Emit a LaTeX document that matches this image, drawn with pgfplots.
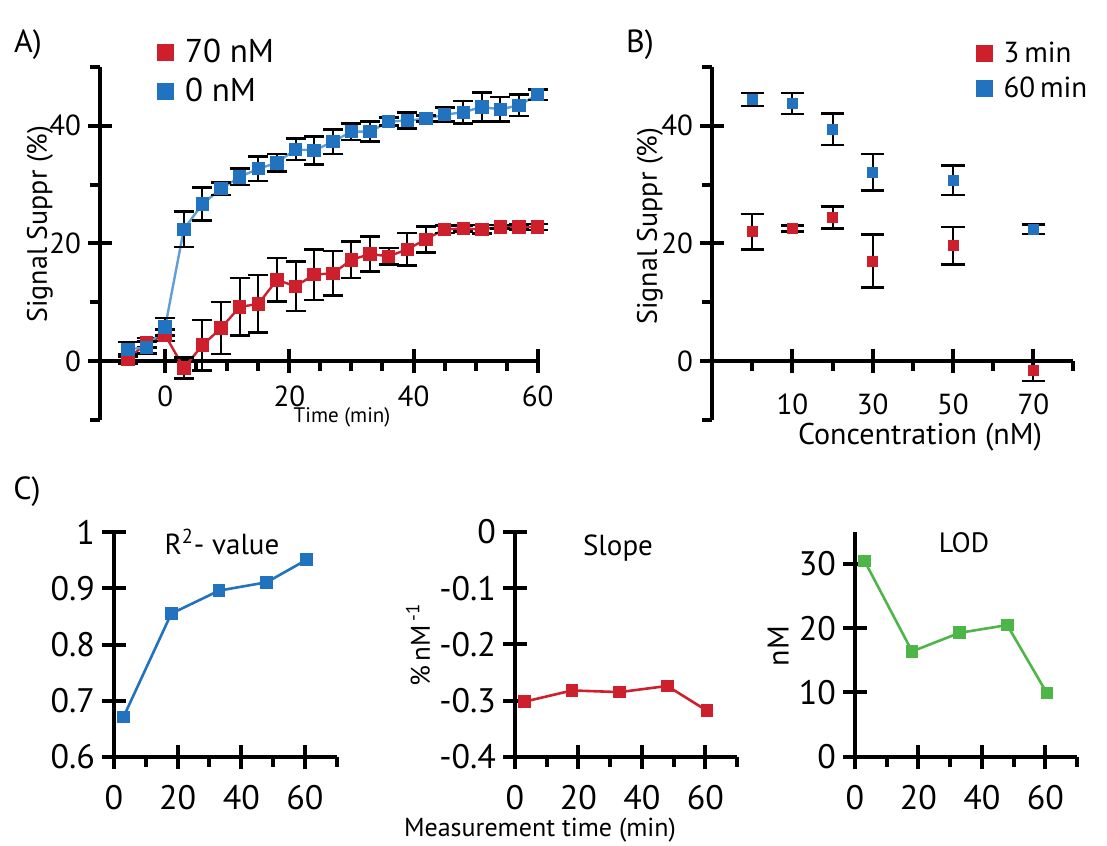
\documentclass[border=0pt]{standalone}
\usepackage{fontspec}
\setmainfont{PT Sans}
\usepackage{pgfplots}
\pgfplotsset{compat=1.18}
\definecolor{myred}{RGB}{205,32,44}
\definecolor{myblue}{RGB}{33,115,192}
\definecolor{lineblue}{RGB}{95,158,215}
\definecolor{mygreen}{RGB}{78,182,72}

\pgfplotsset{
  panel/.style={
    scale only axis, anchor=south west, clip=false,
    tick style={line width=2pt, black},
    tick align=center,
    major tick length=12pt,
    minor tick length=5pt,
    minor x tick style={yshift=-2.5pt},
    minor y tick style={xshift=-2.5pt},
    /pgf/number format/assume math mode=true,
    tick label style={font=\fontsize{14.5}{14.5}\selectfont},
    hide obscured x ticks=false, hide obscured y ticks=false,
    legend image code/.code={\fill[##1, draw=none] (0pt,-4.25pt) rectangle (8.5pt,4.25pt); \path (12pt,0pt);},
    legend style={draw=none, fill=none, inner sep=0pt, row sep=3pt,
      nodes={inner sep=1.5pt, anchor=west}},
    legend cell align=left,
  },
  plain lines/.style={axis line style={line width=2pt, -}},
  cpanel/.style={panel, axis lines=left, plain lines,
    xmin=0, xmax=70, xtick={0,20,40,60}, minor xtick={10,30,50,70},
    tick label style={font=\fontsize{17}{17}\selectfont},
    xticklabel style={yshift=-5pt}},
  errs/.style={error bars/.cd, y dir=both, y explicit,
    error bar style={black, line width=1pt},
    error mark options={rotate=90, black, mark size=#1, line width=1.3pt}},
}

\begin{document}
\begin{tikzpicture}
\useasboundingbox (0,0) rectangle (553.5pt,422.5pt);

% A) time course
\begin{axis}[panel, at={(50pt,212.6pt)}, width=218.85pt, height=176.4pt,
  xmin=-10.5, xmax=60, ymin=-10, ymax=50,
  axis y line=left, axis x line=middle, plain lines,
  xtick={0,20,40,60}, minor xtick={5,10,15,25,30,35,45,50,55},
  xticklabel style={yshift=-3pt},
  ytick={0,20,40}, minor ytick={10,30},
  extra y ticks={-10,50}, extra y tick labels={},
  extra y tick style={tick align=outside, major tick length=5pt},
  legend style={at={(0.129,1.088)}, anchor=north west, font=\fontsize{16.5}{16.5}\selectfont}]
\addplot[color=myred, line width=1.2pt, mark=square*, mark size=2.75pt, errs=5pt]
coordinates {
(-6,0.3)+-(0,0.8) (-3,3.1)+-(0,0.8) (0,4.4)+-(0,1.0) (3,-1.2)+-(0,1.8)
(6,2.7)+-(0,4.3) (9,5.6)+-(0,4.4) (12,9.2)+-(0,4.9) (15,9.7)+-(0,4.9)
(18,13.8)+-(0,3.7) (21,12.7)+-(0,4.2) (24,14.7)+-(0,4.3) (27,14.9)+-(0,3.8)
(30,17.2)+-(0,3.1) (33,18.2)+-(0,3.0) (36,17.8)+-(0,1.4) (39,19.0)+-(0,2.8)
(42,20.7)+-(0,2.2) (45,22.4)+-(0,0.6) (48,22.5)+-(0,0.5) (51,22.4)+-(0,0.7)
(54,22.8)+-(0,0.3) (57,22.8)+-(0,0.4) (60,22.8)+-(0,0.5)
};
\addlegendentry{70 nM}
\addplot[color=myblue, draw=lineblue, line width=1.2pt, mark=square*, mark size=2.75pt,
  mark options={draw=myblue, fill=myblue}, errs=5pt]
coordinates {
(-6,2.0)+-(0,1.2) (-3,2.3)+-(0,1.0) (0,5.8)+-(0,1.5) (3,22.4)+-(0,3.0)
(6,26.7)+-(0,2.8) (9,29.3)+-(0,1.1) (12,31.3)+-(0,1.4) (15,32.7)+-(0,2.1)
(18,33.7)+-(0,1.5) (21,36.0)+-(0,1.8) (24,35.8)+-(0,2.4) (27,37.3)+-(0,2.1)
(30,39.0)+-(0,1.4) (33,39.0)+-(0,1.7) (36,40.7)+-(0,0.7) (39,40.9)+-(0,1.4)
(42,41.2)+-(0,0.5) (45,41.9)+-(0,1.2) (48,42.3)+-(0,1.9) (51,43.2)+-(0,2.5)
(54,42.8)+-(0,2.1) (57,43.5)+-(0,1.8) (60,45.3)+-(0,0.9)
};
\addlegendentry{0 nM}
\end{axis}

% B) concentration
\begin{axis}[panel, at={(356pt,212.6pt)}, width=180.75pt, height=176.4pt,
  xmin=-10, xmax=80, ymin=-10, ymax=50,
  axis y line=left, axis x line=middle, plain lines,
  xtick={10,30,50,70}, minor xtick={0,20,40,60,80},
  xticklabel style={yshift=-7pt},
  ytick={0,20,40}, minor ytick={10,30},
  extra y ticks={-10,50}, extra y tick labels={},
  extra y tick style={tick align=outside, major tick length=5pt},
  legend style={at={(0.730,1.082)}, anchor=north west, font=\fontsize{14.5}{14.5}\selectfont}]
\addplot[only marks, color=myred, mark=square*, mark size=2.5pt, errs=5.8pt]
coordinates {
(0,22.0)+-(0,3.0) (10,22.5)+-(0,0.5) (20,24.4)+-(0,1.9)
(30,17.0)+-(0,4.5) (50,19.6)+-(0,3.2) (70,-1.6)+-(0,1.8)
};
\addlegendentry{3\,min}
\addplot[only marks, color=myblue, mark=square*, mark size=2.5pt, errs=5.8pt]
coordinates {
(0,44.5)+-(0,1.1) (10,43.8)+-(0,1.8) (20,39.4)+-(0,2.7)
(30,32.1)+-(0,3.1) (50,30.7)+-(0,2.5) (70,22.4)+-(0,0.8)
};
\addlegendentry{60\,min}
\end{axis}

% C) R^2
\begin{axis}[cpanel, at={(57pt,44.15pt)}, width=111.4pt, height=112.2pt,
  ymin=0.6, ymax=1,
  ytick={0.6,0.7,0.8,0.9,1}, yticklabels={0.6,0.7,0.8,0.9,1}]
\addplot[color=myblue, line width=1.3pt, mark=square*, mark size=2.5pt]
coordinates {(3,0.671) (18,0.855) (33,0.896) (48,0.911) (60.5,0.951)};
\end{axis}

% C) slope
\begin{axis}[cpanel, at={(257.5pt,44.15pt)}, width=111pt, height=112.3pt,
  ymin=-0.4, ymax=0,
  ytick={-0.4,-0.3,-0.2,-0.1,0}, yticklabels={-0.4,-0.3,-0.2,-0.1,0}]
\addplot[color=myred, line width=1.3pt, mark=square*, mark size=2.5pt]
coordinates {(3,-0.302) (18,-0.282) (33,-0.285) (48,-0.274) (60.5,-0.318)};
\end{axis}

% C) LOD
\begin{axis}[cpanel, at={(427.5pt,44.15pt)}, width=111pt, height=112.35pt,
  ymin=0, ymax=35, ytick={0,10,20,30}]
\addplot[color=mygreen, line width=1.3pt, mark=square*, mark size=2.5pt]
coordinates {(3,30.5) (18,16.4) (33,19.3) (48,20.5) (60.5,9.9)};
\end{axis}

% panel letters and labels
\node[font=\fontsize{16}{16}\selectfont] at (14pt,400pt) {A)};
\node[font=\fontsize{16}{16}\selectfont] at (320pt,400pt) {B)};
\node[font=\fontsize{16}{16}\selectfont] at (13.5pt,176.5pt) {C)};
\node[rotate=90, font=\fontsize{14}{14}\selectfont] at (20pt,310.5pt) {Signal Suppr (\%)};
\node[rotate=90, font=\fontsize{14}{14}\selectfont] at (325pt,309.5pt) {Signal Suppr (\%)};
\node[inner sep=0pt, font=\fontsize{10.5}{10.5}\selectfont] at (171pt,214pt) {Time (min)};
\node[font=\fontsize{15}{15}\selectfont] at (460pt,204pt) {Concentration (nM)};
\node[rotate=90, font=\fontsize{13.5}{13.5}\selectfont] at (209pt,100pt) {\%\,nM\textsuperscript{\,-1}};
\node[rotate=90, font=\fontsize{15}{15}\selectfont] at (389pt,99.5pt) {nM};
\node[font=\fontsize{13}{13}\selectfont] at (270pt,7.5pt) {Measurement time (min)};
\node[font=\fontsize{14.5}{14.5}\selectfont] at (111pt,151.5pt) {R\textsuperscript{2}- value};
\node[font=\fontsize{14.5}{14.5}\selectfont] at (309pt,148.5pt) {Slope};
\node[font=\fontsize{14}{14}\selectfont] at (482pt,151pt) {LOD};
\end{tikzpicture}
\end{document}
